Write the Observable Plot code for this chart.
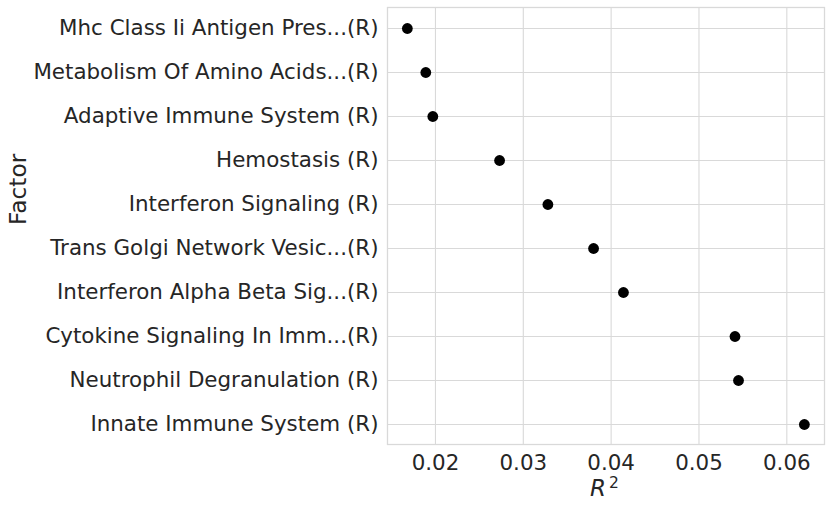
<!DOCTYPE html>
<html>
<head>
<meta charset="utf-8">
<script src="https://cdn.jsdelivr.net/npm/d3@7"></script>
<script src="https://cdn.jsdelivr.net/npm/@observablehq/plot@0.6"></script>
<style>
  html, body { margin: 0; padding: 0; background: #ffffff; }
  #chart { width: 831px; height: 507px; }
  svg { font-family: "DejaVu Sans", sans-serif; }
</style>
</head>
<body>
<div id="chart"></div>
<script>
const factors = [
  "Mhc Class Ii Antigen Pres...(R)",
  "Metabolism Of Amino Acids...(R)",
  "Adaptive Immune System (R)",
  "Hemostasis (R)",
  "Interferon Signaling (R)",
  "Trans Golgi Network Vesic...(R)",
  "Interferon Alpha Beta Sig...(R)",
  "Cytokine Signaling In Imm...(R)",
  "Neutrophil Degranulation (R)",
  "Innate Immune System (R)"
];
const r2Values = [0.0168, 0.0189, 0.0197, 0.0273, 0.0328, 0.0380, 0.0414, 0.0541, 0.0545, 0.0620];
const xTicks = [0.02, 0.03, 0.04, 0.05, 0.06];
const xDomain = [0.01454, 0.06429];

const data = factors.map((f, i) => ({factor: f, r2: r2Values[i]}));

const textColor = "#262626";
const gridColor = "#d9d9d9";

const plot = Plot.plot({
  width: 831,
  height: 507,
  marginLeft: 387,
  marginRight: 7,
  marginTop: 7,
  marginBottom: 63,
  style: {fontFamily: "DejaVu Sans, sans-serif", fontSize: "21.4px", color: textColor, background: "#ffffff"},
  x: {domain: xDomain, ticks: xTicks, tickFormat: d3.format(".2f")},
  y: {type: "point", domain: factors, padding: 0.45},
  marks: [
    Plot.gridX(xTicks, {stroke: gridColor, strokeOpacity: 1, strokeWidth: 1.1}),
    Plot.gridY(factors, {stroke: gridColor, strokeOpacity: 1, strokeWidth: 1.1}),
    Plot.frame({stroke: gridColor, strokeWidth: 1.3}),
    Plot.axisX(xTicks, {tickSize: 0, tickPadding: 10, tickFormat: d3.format(".2f"), label: null, fontSize: 21.4, fill: textColor}),
    Plot.axisY(factors, {tickSize: 0, tickPadding: 9, label: null, fontSize: 21.4, fill: textColor}),
    Plot.dot(data, {x: "r2", y: "factor", r: 5.4, fill: "#000000", stroke: "none"}),
    Plot.text(["Factor"], {frameAnchor: "left", dx: -368.5, dy: -1, rotate: -90, fontSize: 23.3, fill: textColor, text: d => d})
  ]
});

document.getElementById("chart").appendChild(plot);

// x-axis label R² (italic R with superscript 2)
const xs = plot.scale("x");
const cx = (xs.range[0] + xs.range[1]) / 2;
const svg = d3.select(plot);
const lbl = svg.append("text")
  .attr("x", cx - 1)
  .attr("y", 496)
  .attr("text-anchor", "middle")
  .attr("fill", textColor)
  .style("font-family", "DejaVu Sans, sans-serif")
  .style("font-size", "23px");
lbl.append("tspan").style("font-style", "italic").text("R");
lbl.append("tspan").attr("dx", 3).attr("dy", -8.5).style("font-size", "15.5px").text("2");
</script>
</body>
</html>
